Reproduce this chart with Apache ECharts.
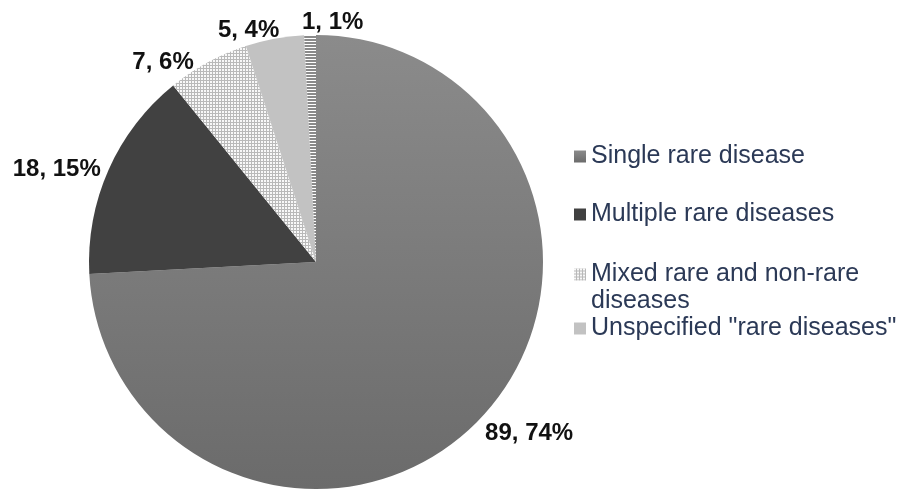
<!DOCTYPE html>
<html>
<head>
<meta charset="utf-8">
<script src="https://cdn.jsdelivr.net/npm/echarts@6/dist/echarts.min.js"></script>
<style>
  html, body { margin: 0; background: #fff; }
  #chart { width: 913px; height: 489px; }
</style>
</head>
<body>
<div id="chart"></div>
<script>
const categories = ['Single rare disease', 'Multiple rare diseases', 'Mixed rare and non-rare diseases', 'Unspecified "rare diseases"', 'Other']
const values = [89, 18, 7, 5, 1]
const legendLabels = {
  // leading blank line keeps the icon level with the first text line
  'Mixed rare and non-rare diseases': '\nMixed rare and non-rare\ndiseases'
}
// nudges so the data labels sit where the original placed them
const labelNudge = [[-2, 14], [-1, 1], [-8, 2], [10, -6], [-3, -11]]

// small tiles for the hatched slices
function makePattern(w, h, bg, fg, cells) {
  const c = document.createElement('canvas')
  c.width = w
  c.height = h
  const ctx = c.getContext('2d')
  ctx.fillStyle = bg
  ctx.fillRect(0, 0, w, h)
  ctx.fillStyle = fg
  cells.forEach(p => ctx.fillRect(p[0], p[1], p[2], p[3]))
  return c
}

const grid = makePattern(3, 3, '#f8f8f8', '#b9b9b9', [[0, 2, 3, 1], [2, 0, 1, 3]])
const stripes = makePattern(4, 3, '#ffffff', '#8a8a8a', [[0, 0, 4, 2]])

const colors = [
  { type: 'linear', x: 0, y: 0, x2: 0, y2: 1, colorStops: [{ offset: 0, color: '#8b8b8b' }, { offset: 1, color: '#6b6b6b' }] },
  '#414141',
  { image: grid, repeat: 'repeat' },
  '#c2c2c2',
  { image: stripes, repeat: 'repeat' }
]

const font = 'Liberation Sans, Arial, sans-serif'
const legendText = {
  color: '#2b3956',
  fontFamily: font,
  fontSize: 25,
  lineHeight: 27
}

let chart = echarts.init(document.getElementById('chart'))
chart.setOption({
  animation: false,
  legend: [
    {
      orient: 'vertical',
      left: 569,
      top: 138,
      itemGap: 31,
      itemWidth: 12,
      itemHeight: 12,
      itemGap: 31,
      icon: 'rect',
      textStyle: legendText,
      data: [categories[0], categories[1]]
    },
    {
      orient: 'vertical',
      left: 569,
      top: 229,
      itemGap: 0,
      itemWidth: 12,
      itemHeight: 12,
      icon: 'rect',
      textStyle: legendText,
      formatter: name => legendLabels[name] || name,
      data: [categories[2], categories[3]]
    }
  ],
  series: [
    {
      type: 'pie',
      center: [316, 262],
      radius: 227,
      startAngle: 90,
      clockwise: true,
      avoidLabelOverlap: false,
      percentPrecision: 0,
      label: {
        show: true,
        position: 'outside',
        formatter: '{c}, {d}%',
        color: '#111',
        fontFamily: font,
        fontWeight: 'bold',
        fontSize: 24
      },
      labelLine: { show: false, length: 2, length2: 0 },
      labelLayout: function (p) {
        const n = labelNudge[p.dataIndex]
        const out = { dx: n[0], dy: n[1] }
        if (p.dataIndex === 4) out.align = 'left'
        return out
      },
      emphasis: { disabled: true },
      data: values.map((v, i) => ({
        name: categories[i],
        value: v,
        itemStyle: { color: colors[i] }
      }))
    }
  ]
})
</script>
</body>
</html>
